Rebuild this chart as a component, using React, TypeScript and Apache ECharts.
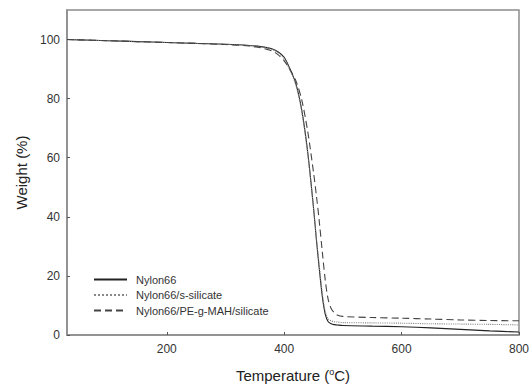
import React, { useEffect, useRef } from "react";
import * as echarts from "echarts";

const temps = [30, 50, 100, 150, 200, 250, 300, 340, 360, 380, 390, 400, 410, 420, 430, 440, 450, 455, 460, 465, 470, 475, 480, 485, 490, 500, 550, 600, 650, 700, 750, 800];
const nylon66 = [100, 99.9, 99.6, 99.3, 99.0, 98.7, 98.4, 98.0, 97.6, 96.8, 95.8, 94.0, 90.0, 85.0, 76.0, 62.0, 43.0, 32.0, 22.0, 13.0, 7.0, 4.5, 3.8, 3.5, 3.4, 3.2, 3.0, 2.8, 2.4, 1.9, 1.4, 1.0];
const sSilicate = [100, 99.9, 99.6, 99.3, 99.0, 98.7, 98.4, 98.0, 97.5, 96.6, 95.5, 93.5, 89.5, 84.5, 75.5, 61.5, 43.0, 32.5, 23.0, 14.0, 8.0, 5.5, 4.8, 4.5, 4.4, 4.2, 4.1, 4.0, 3.8, 3.7, 3.6, 3.4];
const peMah = [100, 99.9, 99.6, 99.3, 99.0, 98.7, 98.3, 97.8, 97.2, 96.1, 94.8, 92.8, 89.8, 86.0, 79.5, 69.0, 55.0, 47.0, 38.0, 28.0, 18.5, 12.0, 9.0, 7.6, 6.8, 6.3, 5.9, 5.7, 5.4, 5.1, 4.9, 4.8];
const seriesNames = ["Nylon66", "Nylon66/s-silicate", "Nylon66/PE-g-MAH/silicate"];
const xTicks = [200, 400, 600, 800];
const yTicks = [0, 20, 40, 60, 80, 100];

export default function App() {
  const ref = useRef<HTMLDivElement>(null);
  useEffect(() => {
    if (!ref.current) return;
    const chart = echarts.init(ref.current, null, { renderer: "svg" });
    const pair = (ys: number[]) => temps.map((t, i) => [t, ys[i]]);
    const font = "Liberation Sans, Arial, sans-serif";
    const frame = "#8c8c8c";
    chart.setOption({
      animation: false,
      backgroundColor: "#ffffff",
      textStyle: { fontFamily: font },
      grid: {
        left: 67, right: 12, top: 10, bottom: 51,
        show: true, borderColor: frame, borderWidth: 1.5, backgroundColor: "transparent",
      },
      legend: {
        orient: "vertical",
        left: 88,
        top: 269,
        itemWidth: 33,
        itemHeight: 12,
        itemGap: 4.5,
        itemStyle: { opacity: 0 },
        textStyle: { fontSize: 11, color: "#333", fontFamily: font, padding: [0, 0, 0, 4] },
        data: seriesNames,
      },
      xAxis: {
        type: "value",
        min: 30,
        max: 800,
        name: "Temperature ({s|o}C)",
        nameLocation: "middle",
        nameGap: 32,
        nameTextStyle: {
          fontSize: 15, color: "#222", fontFamily: font,
          rich: { s: { fontSize: 9, verticalAlign: "top", padding: [0, 0, 8, 0], color: "#222", fontFamily: font } },
        },
        axisLine: { show: true, lineStyle: { color: frame, width: 1.5 } },
        axisTick: { show: true, inside: true, length: 3, customValues: xTicks, lineStyle: { color: "#555" } },
        axisLabel: { customValues: xTicks, fontSize: 12, color: "#333", margin: 8, fontFamily: font },
        splitLine: { show: false },
      },
      yAxis: {
        type: "value",
        min: 0,
        max: 110,
        name: "Weight (%)",
        nameLocation: "middle",
        nameGap: 38,
        nameTextStyle: { fontSize: 15, color: "#222", fontFamily: font },
        axisLine: { show: true, lineStyle: { color: frame, width: 1.5 } },
        axisTick: { show: true, inside: true, length: 3, customValues: yTicks, lineStyle: { color: "#555" } },
        axisLabel: { customValues: yTicks, fontSize: 12, color: "#333", margin: 7, fontFamily: font },
        splitLine: { show: false },
      },
      series: [
        {
          name: seriesNames[0], type: "line", data: pair(nylon66), showSymbol: false, symbol: "none",
          smooth: 0.3, lineStyle: { color: "#222", width: 1.1, type: "solid" }, itemStyle: { color: "#222" },
        },
        {
          name: seriesNames[1], type: "line", data: pair(sSilicate), showSymbol: false, symbol: "none",
          smooth: 0.3, lineStyle: { color: "#888", width: 1.1, type: "dotted" }, itemStyle: { color: "#888" },
        },
        {
          name: seriesNames[2], type: "line", data: pair(peMah), showSymbol: false, symbol: "none",
          smooth: 0.3, lineStyle: { color: "#444", width: 1.1, type: [7, 4] }, itemStyle: { color: "#444" },
        },
      ],
    });
    return () => chart.dispose();
  }, []);
  return <div ref={ref} style={{ width: 532, height: 388, position: "absolute", left: 0, top: 0 }} />;
}
